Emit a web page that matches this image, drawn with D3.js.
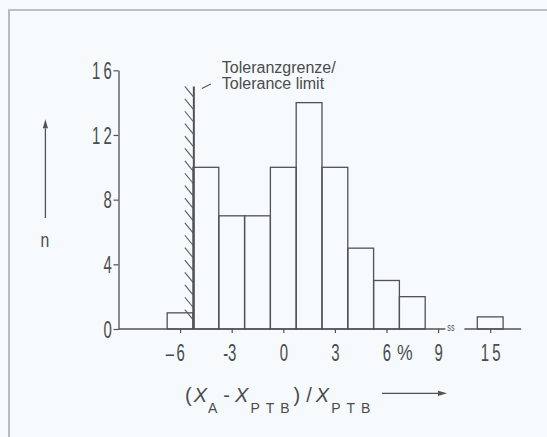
<!DOCTYPE html>
<html><head><meta charset="utf-8">
<script src="https://cdn.jsdelivr.net/npm/d3@7"></script>
<style>html,body{margin:0;padding:0;background:#f6fafc;}svg{display:block;}</style>
</head><body><svg id="c" width="547" height="437"></svg>
<script>
// ---- data ----
const binCenters = [-6, -4.5, -3, -1.5, 0, 1.5, 3, 4.5, 6, 7.5, 15];
const counts     = [1, 10, 7, 7, 10, 14, 10, 5, 3, 2, 0.75];
const binWidth = 1.5;
const xTicks = [-6, -3, 0, 3, 6, 9, 15];
const xTickLabels = ["\u20136", "-3", "0", "3", "6", "9", "15"];
const yTicks = [0, 4, 8, 12, 16];
const yTickLabels = ["0", "4", "8", "12", "16"];
const axisSegments = [[-9.58, 9.42], [13.5, 16.8]];
const toleranceLimit = -5.2;
const toleranceTop = 15;
const toleranceText = ["Toleranzgrenze/", "Tolerance limit"];

// ---- setup ----
const W = 547, H = 437;
const ink = "#505254", txt = "#4a4c4e";
const svg = d3.select("#c");
svg.append("rect").attr("width", W).attr("height", H).attr("fill", "#f6fafc");
svg.append("path").attr("d", `M9,${H} V10 H${W}`).attr("fill", "none")
  .attr("stroke", "#a9adb0").attr("stroke-width", 1.6);

// broken x scale: linear up to 9.5, gap, then continues around 15
const x = d3.scaleLinear().domain([-9.58, 9.5, 13, 17]).range([118.5, 446.7, 455.8, 524.6]);
const y = d3.scaleLinear().domain([0, 16]).range([329, 70.3]);
const SX = 0.65; // condensed glyph factor
const tickFont = "'Liberation Sans', Arial, sans-serif";

// bars
svg.append("g").selectAll("rect").data(binCenters).join("rect")
  .attr("x", (d) => x(d - binWidth / 2))
  .attr("width", (d) => x(d + binWidth / 2) - x(d - binWidth / 2))
  .attr("y", (d, i) => y(counts[i]))
  .attr("height", (d, i) => y(0) - y(counts[i]))
  .attr("fill", "none").attr("stroke", ink).attr("stroke-width", 1.3);

// axis baseline in two pieces (break)
svg.append("g").selectAll("path").data(axisSegments).join("path")
  .attr("d", (s) => `M${x(s[0])},${y(0)}H${x(s[1])}`)
  .attr("stroke", ink).attr("stroke-width", 1.3).attr("fill", "none");

// x axis ticks
const xa = svg.append("g").attr("transform", `translate(0,${y(0)})`)
  .call(d3.axisBottom(x).tickValues(xTicks).tickSize(4).tickSizeOuter(0)
        .tickFormat((d, i) => xTickLabels[i].replace(/^[^0-9]/, "")));
xa.select(".domain").remove();
xa.selectAll(".tick line").attr("stroke", ink).attr("stroke-width", 1.2);
xa.selectAll(".tick text").attr("fill", txt).style("font-family", tickFont)
  .style("font-size", "23px").attr("y", 15).attr("dy", "0.72em")
  .attr("transform", `scale(${SX},1)`).style("letter-spacing", "5px").attr("dx", "2.5px");
xa.selectAll(".tick").each(function (d, i) {
  const lab = xTickLabels[i];
  if (/^[^0-9]/.test(lab)) {
    const long = lab[0] !== "-";
    d3.select(this).append("text").text(lab[0]).attr("fill", txt)
      .style("font-family", tickFont).style("font-size", "23px")
      .attr("text-anchor", "end").attr("x", long ? -10 : -6)
      .attr("y", 15).attr("dy", "0.72em").attr("transform", `scale(${SX},1)`);
  }
});
svg.append("text").text("ss")
  .attr("fill", txt).style("font-family", tickFont).style("font-size", "11px")
  .attr("transform", `translate(${x(9.42) + 2},${y(0) + 2}) scale(${SX},1)`);
// percent sign
svg.append("text").text("%").attr("fill", txt).style("font-family", tickFont).style("font-size", "22px")
  .attr("text-anchor", "middle").attr("y", y(0) + 15).attr("dy", "0.72em")
  .attr("transform", `translate(${x(7.06)},0) scale(0.8,1)`);

// y axis
const ya = svg.append("g").attr("transform", `translate(${x(-9.58)},0)`)
  .call(d3.axisLeft(y).tickValues(yTicks).tickSize(5).tickSizeOuter(0)
        .tickFormat((d, i) => yTickLabels[i]));
ya.select(".domain").attr("stroke", ink).attr("stroke-width", 1.3);
ya.selectAll(".tick line").attr("stroke", ink).attr("stroke-width", 1.2);
ya.selectAll(".tick text").attr("fill", txt).style("font-family", tickFont)
  .style("font-size", "23px").attr("x", -3.5 / SX).attr("dy", "0.36em")
  .attr("transform", `scale(${SX},1)`).style("letter-spacing", "5px");

// tolerance limit with hatching
const lx = x(toleranceLimit), yt = y(toleranceTop), yb = y(0);
svg.append("line").attr("x1", lx).attr("x2", lx).attr("y1", yt).attr("y2", yb)
  .attr("stroke", ink).attr("stroke-width", 2);
const hatchStarts = d3.range(yt, yb - 10, 12.4);
svg.append("g").selectAll("line").data(hatchStarts).join("line")
  .attr("x1", lx - 9).attr("y1", (d) => d).attr("x2", lx).attr("y2", (d) => d + 11)
  .attr("stroke", "#5a5c5e").attr("stroke-width", 1.1);
svg.append("line").attr("x1", lx + 8).attr("y1", yt + 2).attr("x2", lx + 17).attr("y2", yt - 2.5)
  .attr("stroke", ink).attr("stroke-width", 1.1);
svg.append("g").selectAll("text").data(toleranceText).join("text")
  .text((d) => d).attr("x", lx + 28).attr("y", (d, i) => yt - 13 + i * 16)
  .attr("fill", txt).style("font-family", "'Liberation Sans', Arial, sans-serif")
  .style("font-size", "16px");

// y label with arrow
svg.append("line").attr("x1", 45.4).attr("x2", 45.4).attr("y1", y(0) - 111).attr("y2", y(16) + 58)
  .attr("stroke", ink).attr("stroke-width", 1.3);
svg.append("path").attr("d", `M45.4,${y(16) + 49} l-2.6,9 h5.2 z`).attr("fill", ink);
svg.append("text").text("n").attr("fill", txt).style("font-family", tickFont).style("font-size", "21px")
  .attr("text-anchor", "middle").attr("transform", `translate(45,247) scale(0.75,1)`);

// x label with arrow
const xl = svg.append("text").attr("fill", txt).style("font-family", tickFont)
  .attr("transform", "translate(185,401.7)").style("font-size", "20px");
xl.append("tspan").text("(");
xl.append("tspan").text("X").style("font-style", "italic").attr("dx", 2);
xl.append("tspan").text("A").style("font-size", "14px").attr("dy", 11.5).attr("dx", 1);
xl.append("tspan").text("-").attr("dy", -11.5).attr("dx", 6);
xl.append("tspan").text("X").style("font-style", "italic").attr("dx", 5);
xl.append("tspan").text("PTB").style("font-size", "14px").attr("dy", 11.5).attr("dx", 2).style("letter-spacing", "6px");
xl.append("tspan").text(")").attr("dy", -11.5).attr("dx", -2);
xl.append("tspan").text("/").attr("dx", 6);
xl.append("tspan").text("X").style("font-style", "italic").attr("dx", 4);
xl.append("tspan").text("PTB").style("font-size", "14px").attr("dy", 11.5).attr("dx", 2).style("letter-spacing", "6px");
svg.append("line").attr("x1", 382).attr("x2", 440).attr("y1", 393.3).attr("y2", 393.3)
  .attr("stroke", ink).attr("stroke-width", 1.3);
svg.append("path").attr("d", "M447,393.3 l-9,-2.6 v5.2 z").attr("fill", ink);
</script></body></html>
